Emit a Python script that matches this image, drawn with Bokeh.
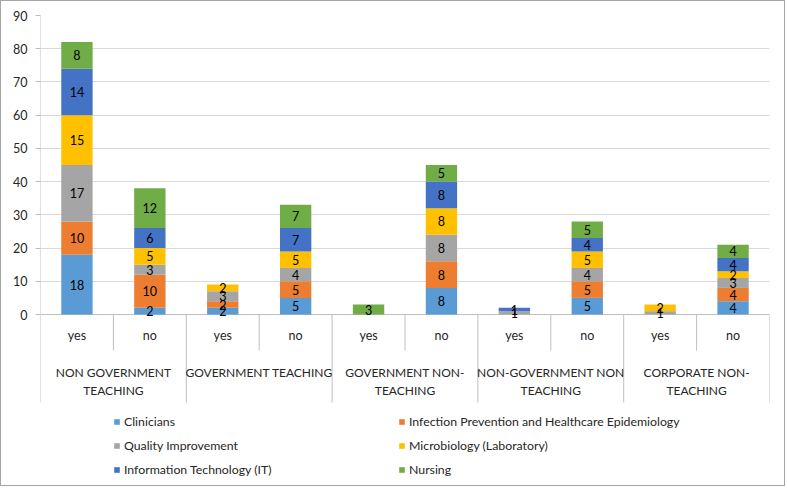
from bokeh.plotting import figure
from bokeh.models import Range1d, FixedTicker, Legend, LegendItem, ColumnDataSource
from bokeh.core.properties import value
from bokeh.embed import file_html
from bokeh.resources import INLINE

# ---------------- data ----------------
groups = ["NON GOVERNMENT\nTEACHING", "GOVERNMENT TEACHING", "GOVERNMENT NON-\nTEACHING",
          "NON-GOVERNMENT NON\nTEACHING", "CORPORATE NON-\nTEACHING"]
answers = ["yes", "no"]
series = ["Clinicians", "Infection Prevention and Healthcare Epidemiology", "Quality Improvement",
          "Microbiology (Laboratory)", "Information Technology (IT)", "Nursing"]
clinicians = [18, 2, 2, 5, 0, 8, 0, 5, 0, 4]
infection = [10, 10, 2, 5, 0, 8, 0, 5, 0, 4]
quality = [17, 3, 3, 4, 0, 8, 1, 4, 1, 3]
microbiology = [15, 5, 2, 5, 0, 8, 0, 5, 2, 2]
info_tech = [14, 6, 0, 7, 0, 8, 1, 4, 0, 4]
nursing = [8, 12, 0, 7, 3, 5, 0, 5, 0, 4]
y_ticks = [0, 10, 20, 30, 40, 50, 60, 70, 80, 90]

# ---------------- style ----------------
colors = ["#5B9BD5", "#ED7D31", "#A5A5A5", "#FFC000", "#4472C4", "#70AD47"]
FONT = "Lato"
TEXT_COLOR = "#262626"
SEP_COLOR = "#BFBFBF"
GRID_COLOR = "#D9D9D9"

# layout in page pixels (canvas starts 1px in, inside a 1px CSS border)
PAGE = 1
FIG_W, FIG_H = 785, 486
FRAME_L, FRAME_R, FRAME_T = 40, 769, 15
FRAME_B = PAGE + FIG_H
ZERO_PX = 314
YES_NO_PX = 335
SHORT_END_PX = 350
GROUP_TOP_PX = 364
LONG_END_PX = 402
LEGEND_X, LEGEND_BOTTOM_PX = 113, 478

values = [clinicians, infection, quality, microbiology, info_tech, nursing]
n = len(clinicians)
ymax = y_ticks[-1]
ppu = (ZERO_PX - FRAME_T) / ymax


def y_at(px):
    return (ZERO_PX - px) / ppu


keys = ["s%d" % i for i in range(len(series))]
data = {"x": [i + 0.5 for i in range(n)]}
for k, v in zip(keys, values):
    data[k] = v
source = ColumnDataSource(data)

p = figure(width=FIG_W, height=FIG_H, output_backend="svg", toolbar_location=None,
           x_range=Range1d(0, n), y_range=Range1d(y_at(FRAME_B), ymax),
           x_axis_location=None, tools="",
           min_border_left=FRAME_L - PAGE, min_border_right=PAGE + FIG_W - FRAME_R,
           min_border_top=FRAME_T - PAGE, min_border_bottom=0)
p.outline_line_color = None
p.background_fill_color = "white"
p.border_fill_color = "white"
p.styles = {"border": "1px solid #A6A6A6"}
p.xgrid.visible = False
p.ygrid.ticker = FixedTicker(ticks=y_ticks)
p.ygrid.grid_line_color = GRID_COLOR

ax = p.yaxis[0]
ax.ticker = FixedTicker(ticks=y_ticks)
ax.axis_line_color = None
ax.major_tick_line_color = SEP_COLOR
ax.major_tick_out = 5
ax.major_tick_in = 0
ax.minor_tick_line_color = None
ax.major_label_standoff = 8
ax.major_label_text_font = FONT
ax.major_label_text_font_size = "12.5px"
ax.major_label_text_color = TEXT_COLOR

# separators & x axis line
long_x = [i for i in range(n + 1) if i % 2 == 0]
short_x = [i for i in range(n + 1) if i % 2 == 1]
p.segment(x0=long_x, x1=long_x, y0=[0] * len(long_x), y1=[y_at(LONG_END_PX)] * len(long_x),
          line_color=SEP_COLOR, line_width=1)
p.segment(x0=short_x, x1=short_x, y0=[0] * len(short_x), y1=[y_at(SHORT_END_PX)] * len(short_x),
          line_color=SEP_COLOR, line_width=1)
p.segment(x0=[0], x1=[0], y0=[0], y1=[ymax], line_color=SEP_COLOR, line_width=1)
p.segment(x0=[0], x1=[n], y0=[0], y1=[0], line_color=SEP_COLOR, line_width=1)

# bars
renderers = p.vbar_stack(keys, x="x", width=0.43, color=colors, line_color=None, source=source)

# data labels
lx, ly, lt = [], [], []
bottoms = [0] * n
for v in values:
    for i in range(n):
        if v[i] > 0:
            lx.append(i + 0.5)
            ly.append(bottoms[i] + v[i] / 2)
            lt.append(str(v[i]))
        bottoms[i] += v[i]
p.text(x=lx, y=ly, text=lt, text_align="center", text_baseline="middle",
       text_font=value(FONT), text_font_size="12.5px", text_color="black")

# category labels
cx = [i + 0.5 for i in range(n)]
ct = [answers[i % 2] for i in range(n)]
p.text(x=cx, y=[y_at(YES_NO_PX)] * n, text=ct, text_align="center", text_baseline="middle",
       text_font=value(FONT), text_font_size="12.5px", text_color=TEXT_COLOR)
gx = [2 * g + 1 for g in range(len(groups))]
p.text(x=gx, y=[y_at(GROUP_TOP_PX)] * len(groups), text=groups, text_align="center",
       text_baseline="top", text_line_height=1.25,
       text_font=value(FONT), text_font_size="12px", text_color=TEXT_COLOR)

# legend
legend = Legend(items=[LegendItem(label=s, renderers=[r]) for s, r in zip(series, renderers)],
                orientation="horizontal", ncols=2,
                location=(LEGEND_X - FRAME_L, FRAME_B - LEGEND_BOTTOM_PX))
legend.padding = 0
legend.margin = 0
legend.spacing = 6
legend.label_height = 18
legend.label_width = 268
legend.glyph_width = 7
legend.glyph_height = 7
legend.label_standoff = 4
legend.label_text_font = FONT
legend.label_text_font_size = "12.3px"
legend.label_text_color = TEXT_COLOR
legend.border_line_color = None
legend.background_fill_alpha = 0
p.add_layout(legend, "center")

open("out.html", "w").write(file_html(p, INLINE))
